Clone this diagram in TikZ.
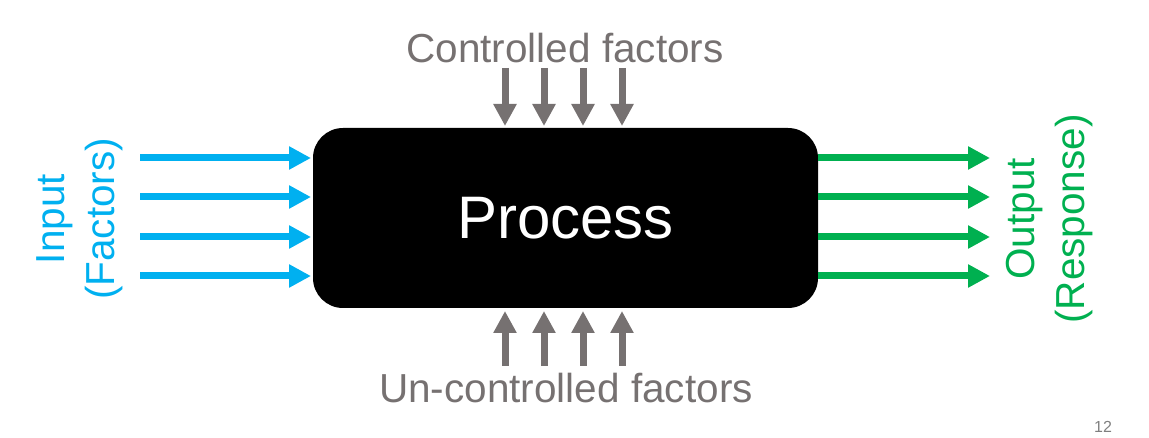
\documentclass[tikz,border=0pt]{standalone}
\usepackage{fontspec}
\setmainfont{Liberation Sans}
\usetikzlibrary{arrows.meta}
\definecolor{incol}{HTML}{00B0F0}
\definecolor{outcol}{HTML}{00B050}
\definecolor{ctrlcol}{HTML}{767171}
\definecolor{numcol}{HTML}{7F7F7F}
\begin{document}
\begin{tikzpicture}[x=1pt,y=-1pt,
  flow/.style={line width=7pt,-{Triangle[length=22pt,width=22pt]}},
  bigtext/.style={font=\fontsize{40.5}{50}\selectfont,inner sep=0pt,align=center}]
\useasboundingbox (0,0) rectangle (1149,438);
\node[fill=black,rounded corners=30pt,minimum width=505pt,minimum height=180pt,inner sep=0pt,
  text=white,font=\fontsize{60}{70}\selectfont] (proc) at (565.5,218) {Process};
% input and output
\foreach \i/\y in {1/158,2/197,3/237,4/276}{
  \coordinate (ia\i) at (140,\y);
  \coordinate (ib\i) at (311,\y);
  \draw[flow,incol] (ia\i) -- (ib\i);
  \coordinate (oa\i) at (818,\y);
  \coordinate (ob\i) at (990,\y);
  \draw[flow,outcol] (oa\i) -- (ob\i);
}
% controlled and un-controlled
\foreach \i/\x in {1/505,2/544,3/583,4/622}{
  \coordinate (ta\i) at (\x,68);
  \coordinate (tb\i) at (\x,126);
  \draw[flow,ctrlcol] (ta\i) -- (tb\i);
  \coordinate (ba\i) at (\x,366);
  \coordinate (bb\i) at (\x,311);
  \draw[flow,ctrlcol] (ba\i) -- (bb\i);
}
\node[bigtext,text=ctrlcol] (ctrl) at (565,48) {Controlled factors};
\node[bigtext,text=ctrlcol] (unctrl) at (566,388) {Un-controlled factors};
\node[bigtext,text=incol,rotate=90] (inp) at (80,219) {Input\\(Factors)};
\node[bigtext,text=outcol,rotate=90] (outp) at (1050,219) {Output\\(Response)};
\node[text=numcol,font=\fontsize{16}{18}\selectfont,inner sep=0pt] (pg) at (1103,427) {12};
\end{tikzpicture}
\end{document}
